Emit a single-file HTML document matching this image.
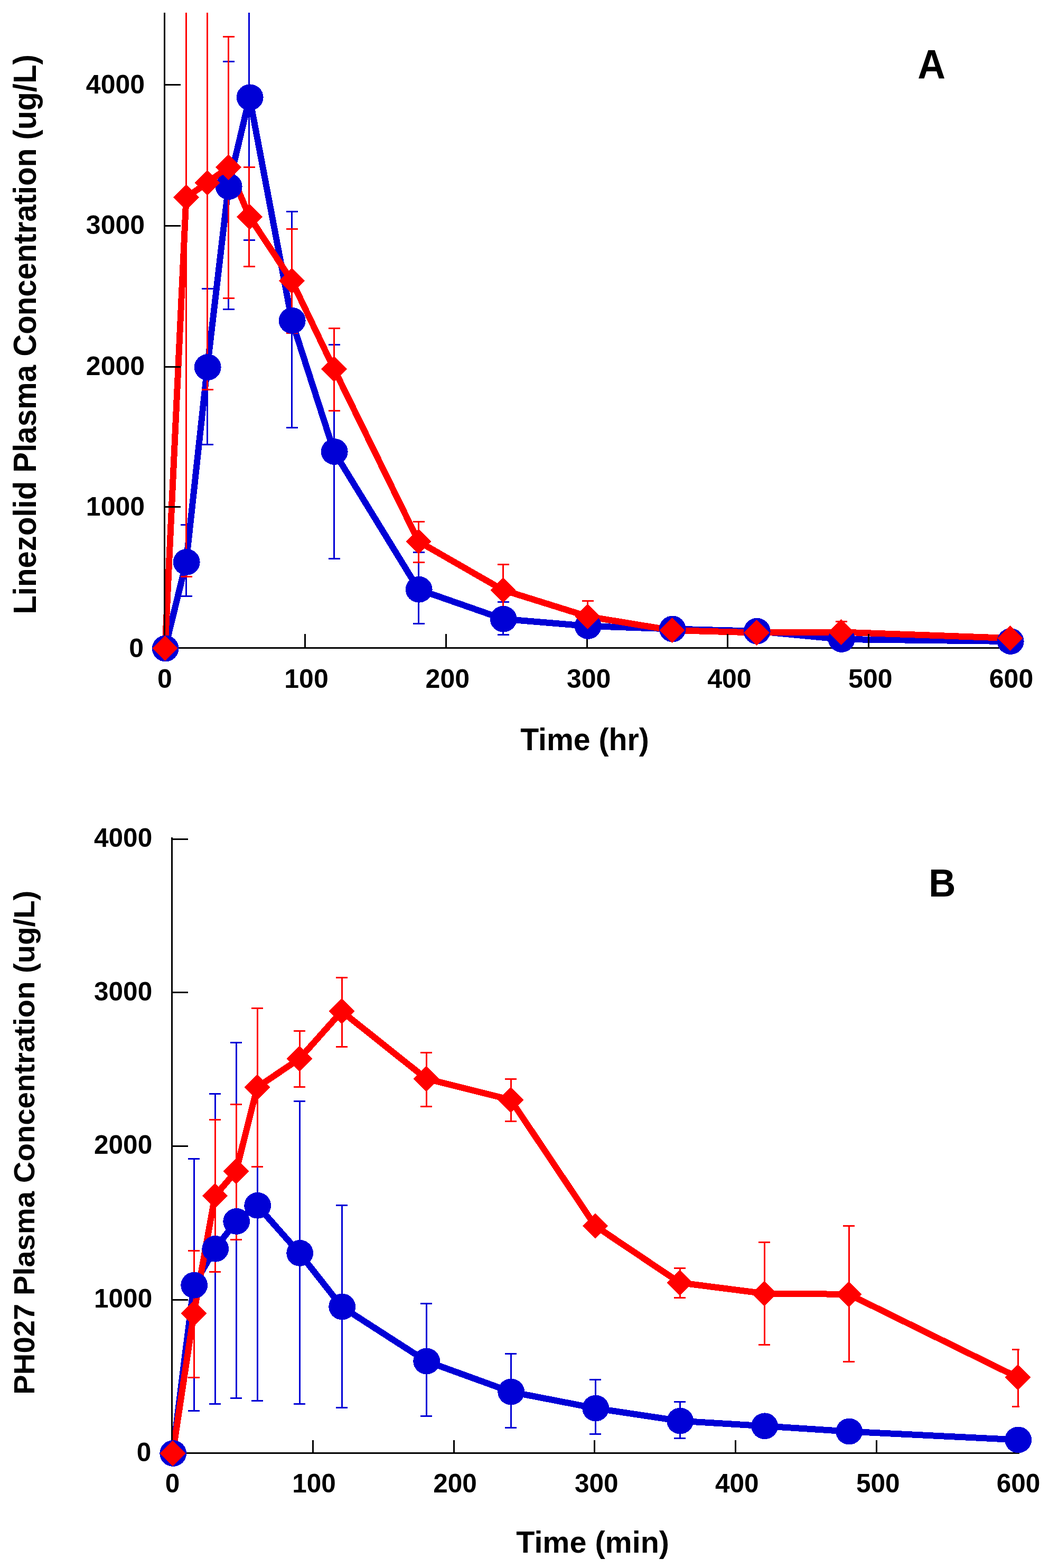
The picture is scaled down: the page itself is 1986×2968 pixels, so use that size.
<!DOCTYPE html>
<html><head><meta charset="utf-8"><title>Plasma Concentration</title>
<style>html,body{margin:0;padding:0;background:#fff;}body{width:1986px;height:2968px;overflow:hidden;}svg{display:block;}</style>
</head><body>
<svg width="1986" height="2968" viewBox="0 0 1986 2968" shape-rendering="crispEdges"><defs><clipPath id="clipA"><rect x="300" y="24" width="1616" height="1210"/></clipPath><clipPath id="clipB"><rect x="300" y="1584" width="1630" height="1180"/></clipPath></defs><rect width="1986" height="2968" fill="#fff"/><g stroke="#0000D6" stroke-width="3" clip-path="url(#clipA)"><line x1="352.5" y1="993.4" x2="352.5" y2="1128.6"/><line x1="341.5" y1="993.4" x2="363.5" y2="993.4"/><line x1="341.5" y1="1128.6" x2="363.5" y2="1128.6"/><line x1="392.5" y1="546.3" x2="392.5" y2="841.6"/><line x1="381.5" y1="546.3" x2="403.5" y2="546.3"/><line x1="381.5" y1="841.6" x2="403.5" y2="841.6"/><line x1="432.5" y1="116.5" x2="432.5" y2="585.2"/><line x1="421.5" y1="116.5" x2="443.5" y2="116.5"/><line x1="421.5" y1="585.2" x2="443.5" y2="585.2"/><line x1="471.5" y1="-90.0" x2="471.5" y2="454.2"/><line x1="460.5" y1="-90.0" x2="482.5" y2="-90.0"/><line x1="460.5" y1="454.2" x2="482.5" y2="454.2"/><line x1="552.5" y1="400.4" x2="552.5" y2="809.4"/><line x1="541.5" y1="400.4" x2="563.5" y2="400.4"/><line x1="541.5" y1="809.4" x2="563.5" y2="809.4"/><line x1="632.5" y1="652.3" x2="632.5" y2="1057.5"/><line x1="621.5" y1="652.3" x2="643.5" y2="652.3"/><line x1="621.5" y1="1057.5" x2="643.5" y2="1057.5"/><line x1="792.5" y1="1045.5" x2="792.5" y2="1180.4"/><line x1="781.5" y1="1045.5" x2="803.5" y2="1045.5"/><line x1="781.5" y1="1180.4" x2="803.5" y2="1180.4"/><line x1="952.5" y1="1139.5" x2="952.5" y2="1201.5"/><line x1="941.5" y1="1139.5" x2="963.5" y2="1139.5"/><line x1="941.5" y1="1201.5" x2="963.5" y2="1201.5"/><line x1="1112.5" y1="1168.0" x2="1112.5" y2="1202.0"/><line x1="1101.5" y1="1168.0" x2="1123.5" y2="1168.0"/><line x1="1101.5" y1="1202.0" x2="1123.5" y2="1202.0"/></g><polyline points="312.5,1227.5 352.5,1063.9 392.5,695.1 432.5,353.1 472.5,184.3 552.5,606.9 632.5,855.0 792.5,1115.8 952.5,1171.7 1112.5,1185.0 1272.5,1190.5 1432.5,1194.7 1592.5,1210.0 1912.5,1214.0" fill="none" stroke="#0000D6" stroke-width="12" stroke-linejoin="miter" stroke-miterlimit="2"/><g stroke="#FF0000" stroke-width="3" clip-path="url(#clipA)"><line x1="352.5" y1="-350.0" x2="352.5" y2="1091.6"/><line x1="341.5" y1="-350.0" x2="363.5" y2="-350.0"/><line x1="341.5" y1="1091.6" x2="363.5" y2="1091.6"/><line x1="392.5" y1="-50.0" x2="392.5" y2="737.2"/><line x1="381.5" y1="-50.0" x2="403.5" y2="-50.0"/><line x1="381.5" y1="737.2" x2="403.5" y2="737.2"/><line x1="432.5" y1="69.0" x2="432.5" y2="564.3"/><line x1="421.5" y1="69.0" x2="443.5" y2="69.0"/><line x1="421.5" y1="564.3" x2="443.5" y2="564.3"/><line x1="471.5" y1="316.3" x2="471.5" y2="504.4"/><line x1="460.5" y1="316.3" x2="482.5" y2="316.3"/><line x1="460.5" y1="504.4" x2="482.5" y2="504.4"/><line x1="552.5" y1="433.3" x2="552.5" y2="630.0"/><line x1="541.5" y1="433.3" x2="563.5" y2="433.3"/><line x1="541.5" y1="630.0" x2="563.5" y2="630.0"/><line x1="632.5" y1="621.2" x2="632.5" y2="777.6"/><line x1="621.5" y1="621.2" x2="643.5" y2="621.2"/><line x1="621.5" y1="777.6" x2="643.5" y2="777.6"/><line x1="792.5" y1="987.4" x2="792.5" y2="1064.5"/><line x1="781.5" y1="987.4" x2="803.5" y2="987.4"/><line x1="781.5" y1="1064.5" x2="803.5" y2="1064.5"/><line x1="952.5" y1="1068.5" x2="952.5" y2="1165.3"/><line x1="941.5" y1="1068.5" x2="963.5" y2="1068.5"/><line x1="941.5" y1="1165.3" x2="963.5" y2="1165.3"/><line x1="1112.5" y1="1137.5" x2="1112.5" y2="1196.3"/><line x1="1101.5" y1="1137.5" x2="1123.5" y2="1137.5"/><line x1="1101.5" y1="1196.3" x2="1123.5" y2="1196.3"/><line x1="1592.5" y1="1176.4" x2="1592.5" y2="1217.0"/><line x1="1581.5" y1="1176.4" x2="1603.5" y2="1176.4"/><line x1="1581.5" y1="1217.0" x2="1603.5" y2="1217.0"/></g><polyline points="312.5,1227.0 352.5,373.5 392.5,346.0 432.5,316.5 472.5,410.6 552.5,531.5 632.5,698.4 792.5,1025.0 952.5,1116.9 1112.5,1166.9 1272.5,1193.1 1432.5,1197.5 1592.5,1196.5 1912.5,1208.0" fill="none" stroke="#FF0000" stroke-width="12" stroke-linejoin="miter" stroke-miterlimit="2"/><g stroke="#0000D6" stroke-width="3" clip-path="url(#clipB)"><line x1="367.0" y1="2193.3" x2="367.0" y2="2670.4"/><line x1="356.0" y1="2193.3" x2="378.0" y2="2193.3"/><line x1="356.0" y1="2670.4" x2="378.0" y2="2670.4"/><line x1="407.0" y1="2070.3" x2="407.0" y2="2657.2"/><line x1="396.0" y1="2070.3" x2="418.0" y2="2070.3"/><line x1="396.0" y1="2657.2" x2="418.0" y2="2657.2"/><line x1="447.0" y1="1973.3" x2="447.0" y2="2646.5"/><line x1="436.0" y1="1973.3" x2="458.0" y2="1973.3"/><line x1="436.0" y1="2646.5" x2="458.0" y2="2646.5"/><line x1="487.0" y1="2058.0" x2="487.0" y2="2651.3"/><line x1="476.0" y1="2058.0" x2="498.0" y2="2058.0"/><line x1="476.0" y1="2651.3" x2="498.0" y2="2651.3"/><line x1="567.0" y1="2084.2" x2="567.0" y2="2657.4"/><line x1="556.0" y1="2084.2" x2="578.0" y2="2084.2"/><line x1="556.0" y1="2657.4" x2="578.0" y2="2657.4"/><line x1="647.0" y1="2281.0" x2="647.0" y2="2664.6"/><line x1="636.0" y1="2281.0" x2="658.0" y2="2281.0"/><line x1="636.0" y1="2664.6" x2="658.0" y2="2664.6"/><line x1="807.0" y1="2467.3" x2="807.0" y2="2680.7"/><line x1="796.0" y1="2467.3" x2="818.0" y2="2467.3"/><line x1="796.0" y1="2680.7" x2="818.0" y2="2680.7"/><line x1="967.0" y1="2562.7" x2="967.0" y2="2702.5"/><line x1="956.0" y1="2562.7" x2="978.0" y2="2562.7"/><line x1="956.0" y1="2702.5" x2="978.0" y2="2702.5"/><line x1="1127.0" y1="2611.3" x2="1127.0" y2="2714.8"/><line x1="1116.0" y1="2611.3" x2="1138.0" y2="2611.3"/><line x1="1116.0" y1="2714.8" x2="1138.0" y2="2714.8"/><line x1="1287.0" y1="2653.2" x2="1287.0" y2="2722.6"/><line x1="1276.0" y1="2653.2" x2="1298.0" y2="2653.2"/><line x1="1276.0" y1="2722.6" x2="1298.0" y2="2722.6"/></g><polyline points="327.0,2751.0 367.0,2432.7 407.0,2363.8 447.0,2311.9 487.0,2281.8 567.0,2371.9 647.0,2473.4 807.0,2576.5 967.0,2634.5 1127.0,2665.6 1287.0,2689.6 1447.0,2699.3 1607.0,2709.6 1927.0,2725.4" fill="none" stroke="#0000D6" stroke-width="12" stroke-linejoin="miter" stroke-miterlimit="2"/><g stroke="#FF0000" stroke-width="3" clip-path="url(#clipB)"><line x1="367.0" y1="2367.4" x2="367.0" y2="2607.5"/><line x1="356.0" y1="2367.4" x2="378.0" y2="2367.4"/><line x1="356.0" y1="2607.5" x2="378.0" y2="2607.5"/><line x1="407.0" y1="2119.5" x2="407.0" y2="2407.2"/><line x1="396.0" y1="2119.5" x2="418.0" y2="2119.5"/><line x1="396.0" y1="2407.2" x2="418.0" y2="2407.2"/><line x1="447.0" y1="2090.4" x2="447.0" y2="2346.4"/><line x1="436.0" y1="2090.4" x2="458.0" y2="2090.4"/><line x1="436.0" y1="2346.4" x2="458.0" y2="2346.4"/><line x1="487.0" y1="1908.2" x2="487.0" y2="2208.2"/><line x1="476.0" y1="1908.2" x2="498.0" y2="1908.2"/><line x1="476.0" y1="2208.2" x2="498.0" y2="2208.2"/><line x1="567.0" y1="1951.3" x2="567.0" y2="2057.5"/><line x1="556.0" y1="1951.3" x2="578.0" y2="1951.3"/><line x1="556.0" y1="2057.5" x2="578.0" y2="2057.5"/><line x1="647.0" y1="1850.2" x2="647.0" y2="1981.3"/><line x1="636.0" y1="1850.2" x2="658.0" y2="1850.2"/><line x1="636.0" y1="1981.3" x2="658.0" y2="1981.3"/><line x1="807.0" y1="1992.2" x2="807.0" y2="2094.6"/><line x1="796.0" y1="1992.2" x2="818.0" y2="1992.2"/><line x1="796.0" y1="2094.6" x2="818.0" y2="2094.6"/><line x1="967.0" y1="2042.1" x2="967.0" y2="2122.4"/><line x1="956.0" y1="2042.1" x2="978.0" y2="2042.1"/><line x1="956.0" y1="2122.4" x2="978.0" y2="2122.4"/><line x1="1127.0" y1="2311.0" x2="1127.0" y2="2330.0"/><line x1="1116.0" y1="2311.0" x2="1138.0" y2="2311.0"/><line x1="1116.0" y1="2330.0" x2="1138.0" y2="2330.0"/><line x1="1287.0" y1="2400.2" x2="1287.0" y2="2456.2"/><line x1="1276.0" y1="2400.2" x2="1298.0" y2="2400.2"/><line x1="1276.0" y1="2456.2" x2="1298.0" y2="2456.2"/><line x1="1447.0" y1="2351.4" x2="1447.0" y2="2545.2"/><line x1="1436.0" y1="2351.4" x2="1458.0" y2="2351.4"/><line x1="1436.0" y1="2545.2" x2="1458.0" y2="2545.2"/><line x1="1607.0" y1="2320.4" x2="1607.0" y2="2577.4"/><line x1="1596.0" y1="2320.4" x2="1618.0" y2="2320.4"/><line x1="1596.0" y1="2577.4" x2="1618.0" y2="2577.4"/><line x1="1927.0" y1="2554.9" x2="1927.0" y2="2662.8"/><line x1="1916.0" y1="2554.9" x2="1938.0" y2="2554.9"/><line x1="1916.0" y1="2662.8" x2="1938.0" y2="2662.8"/></g><polyline points="327.0,2751.0 367.0,2486.0 407.0,2263.6 447.0,2217.0 487.0,2058.0 567.0,2004.0 647.0,1914.3 807.0,2041.9 967.0,2081.9 1127.0,2320.5 1287.0,2428.0 1447.0,2448.4 1607.0,2449.9 1927.0,2607.3" fill="none" stroke="#FF0000" stroke-width="12" stroke-linejoin="miter" stroke-miterlimit="2"/><g fill="#000"><rect x="310" y="24" width="3" height="1204"/><rect x="310" y="1225" width="1604" height="3"/><rect x="313" y="958" width="29" height="3"/><rect x="313" y="693" width="29" height="3"/><rect x="313" y="426" width="29" height="3"/><rect x="313" y="159" width="29" height="3"/><rect x="576.2" y="1200" width="3" height="25"/><rect x="842.8" y="1200" width="3" height="25"/><rect x="1109.5" y="1200" width="3" height="25"/><rect x="1376.1" y="1200" width="3" height="25"/><rect x="1642.8" y="1200" width="3" height="25"/><rect x="1909.4" y="1200" width="3" height="25"/><rect x="324" y="1585" width="3" height="1167"/><rect x="324" y="2749" width="1606" height="3"/><rect x="327" y="2459" width="29" height="3"/><rect x="327" y="2168" width="29" height="3"/><rect x="327" y="1877" width="29" height="3"/><rect x="327" y="1587" width="29" height="3"/><rect x="590.8" y="2726" width="3" height="23"/><rect x="857.5" y="2726" width="3" height="23"/><rect x="1124.2" y="2726" width="3" height="23"/><rect x="1391.0" y="2726" width="3" height="23"/><rect x="1657.8" y="2726" width="3" height="23"/><rect x="1924.5" y="2726" width="3" height="23"/></g><g fill="#0000D6"><ellipse cx="313.2" cy="1227.5" rx="25.4" ry="24.9"/><ellipse cx="353.2" cy="1063.9" rx="25.4" ry="24.9"/><ellipse cx="393.2" cy="695.1" rx="25.4" ry="24.9"/><ellipse cx="433.2" cy="353.1" rx="25.4" ry="24.9"/><ellipse cx="473.2" cy="184.3" rx="25.4" ry="24.9"/><ellipse cx="553.2" cy="606.9" rx="25.4" ry="24.9"/><ellipse cx="633.2" cy="855.0" rx="25.4" ry="24.9"/><ellipse cx="793.2" cy="1115.8" rx="25.4" ry="24.9"/><ellipse cx="953.2" cy="1171.7" rx="25.4" ry="24.9"/><ellipse cx="1113.2" cy="1185.0" rx="25.4" ry="24.9"/><ellipse cx="1273.2" cy="1190.5" rx="25.4" ry="24.9"/><ellipse cx="1433.2" cy="1194.7" rx="25.4" ry="24.9"/><ellipse cx="1593.2" cy="1210.0" rx="25.4" ry="24.9"/><ellipse cx="1913.2" cy="1214.0" rx="25.4" ry="24.9"/></g><g fill="#FF0000"><path d="M312.5 1202.7L336.8 1227.0L312.5 1251.3L288.2 1227.0Z"/><path d="M352.5 349.2L376.8 373.5L352.5 397.8L328.2 373.5Z"/><path d="M392.5 321.7L416.8 346.0L392.5 370.3L368.2 346.0Z"/><path d="M432.5 292.2L456.8 316.5L432.5 340.8L408.2 316.5Z"/><path d="M472.5 386.3L496.8 410.6L472.5 434.9L448.2 410.6Z"/><path d="M552.5 507.2L576.8 531.5L552.5 555.8L528.2 531.5Z"/><path d="M632.5 674.1L656.8 698.4L632.5 722.7L608.2 698.4Z"/><path d="M792.5 1000.7L816.8 1025.0L792.5 1049.3L768.2 1025.0Z"/><path d="M952.5 1092.6L976.8 1116.9L952.5 1141.2L928.2 1116.9Z"/><path d="M1112.5 1142.6L1136.8 1166.9L1112.5 1191.2L1088.2 1166.9Z"/><path d="M1272.5 1168.8L1296.8 1193.1L1272.5 1217.4L1248.2 1193.1Z"/><path d="M1432.5 1173.2L1456.8 1197.5L1432.5 1221.8L1408.2 1197.5Z"/><path d="M1592.5 1172.2L1616.8 1196.5L1592.5 1220.8L1568.2 1196.5Z"/><path d="M1912.5 1183.7L1936.8 1208.0L1912.5 1232.3L1888.2 1208.0Z"/></g><g fill="#0000D6"><ellipse cx="327.7" cy="2751.0" rx="25.4" ry="24.9"/><ellipse cx="367.7" cy="2432.7" rx="25.4" ry="24.9"/><ellipse cx="407.7" cy="2363.8" rx="25.4" ry="24.9"/><ellipse cx="447.7" cy="2311.9" rx="25.4" ry="24.9"/><ellipse cx="487.7" cy="2281.8" rx="25.4" ry="24.9"/><ellipse cx="567.7" cy="2371.9" rx="25.4" ry="24.9"/><ellipse cx="647.7" cy="2473.4" rx="25.4" ry="24.9"/><ellipse cx="807.7" cy="2576.5" rx="25.4" ry="24.9"/><ellipse cx="967.7" cy="2634.5" rx="25.4" ry="24.9"/><ellipse cx="1127.7" cy="2665.6" rx="25.4" ry="24.9"/><ellipse cx="1287.7" cy="2689.6" rx="25.4" ry="24.9"/><ellipse cx="1447.7" cy="2699.3" rx="25.4" ry="24.9"/><ellipse cx="1607.7" cy="2709.6" rx="25.4" ry="24.9"/><ellipse cx="1927.7" cy="2725.4" rx="25.4" ry="24.9"/></g><g fill="#FF0000"><path d="M327.0 2726.7L351.3 2751.0L327.0 2775.3L302.7 2751.0Z"/><path d="M367.0 2461.7L391.3 2486.0L367.0 2510.3L342.7 2486.0Z"/><path d="M407.0 2239.3L431.3 2263.6L407.0 2287.9L382.7 2263.6Z"/><path d="M447.0 2192.7L471.3 2217.0L447.0 2241.3L422.7 2217.0Z"/><path d="M487.0 2033.7L511.3 2058.0L487.0 2082.3L462.7 2058.0Z"/><path d="M567.0 1979.7L591.3 2004.0L567.0 2028.3L542.7 2004.0Z"/><path d="M647.0 1890.0L671.3 1914.3L647.0 1938.6L622.7 1914.3Z"/><path d="M807.0 2017.6L831.3 2041.9L807.0 2066.2L782.7 2041.9Z"/><path d="M967.0 2057.6L991.3 2081.9L967.0 2106.2L942.7 2081.9Z"/><path d="M1127.0 2296.2L1151.3 2320.5L1127.0 2344.8L1102.7 2320.5Z"/><path d="M1287.0 2403.7L1311.3 2428.0L1287.0 2452.3L1262.7 2428.0Z"/><path d="M1447.0 2424.1L1471.3 2448.4L1447.0 2472.7L1422.7 2448.4Z"/><path d="M1607.0 2425.6L1631.3 2449.9L1607.0 2474.2L1582.7 2449.9Z"/><path d="M1927.0 2583.0L1951.3 2607.3L1927.0 2631.6L1902.7 2607.3Z"/></g><g font-family="'Liberation Sans', Arial, sans-serif" font-weight="bold" fill="#000" shape-rendering="auto"><text x="272.1" y="1243.7" font-size="50" text-anchor="end">0</text><text x="274.1" y="976.2" font-size="50" text-anchor="end">1000</text><text x="274.1" y="709.7" font-size="50" text-anchor="end">2000</text><text x="274.1" y="443.0" font-size="50" text-anchor="end">3000</text><text x="274.1" y="177.2" font-size="50" text-anchor="end">4000</text><text x="312.0" y="1302.3" font-size="50" text-anchor="middle">0</text><text x="580.0" y="1302.3" font-size="50" text-anchor="middle">100</text><text x="847.3" y="1302.3" font-size="50" text-anchor="middle">200</text><text x="1114.7" y="1302.3" font-size="50" text-anchor="middle">300</text><text x="1380.9" y="1302.3" font-size="50" text-anchor="middle">400</text><text x="1647.8" y="1302.3" font-size="50" text-anchor="middle">500</text><text x="1914.5" y="1302.3" font-size="50" text-anchor="middle">600</text><text x="286.2" y="2765.5" font-size="49.5" text-anchor="end">0</text><text x="288.2" y="2475.0" font-size="49.5" text-anchor="end">1000</text><text x="288.2" y="2184.4" font-size="49.5" text-anchor="end">2000</text><text x="288.2" y="1893.8" font-size="49.5" text-anchor="end">3000</text><text x="288.2" y="1603.2" font-size="49.5" text-anchor="end">4000</text><text x="326.5" y="2824.5" font-size="49.5" text-anchor="middle">0</text><text x="594.5" y="2824.5" font-size="49.5" text-anchor="middle">100</text><text x="861.5" y="2824.5" font-size="49.5" text-anchor="middle">200</text><text x="1129.2" y="2824.5" font-size="49.5" text-anchor="middle">300</text><text x="1395.3" y="2824.5" font-size="49.5" text-anchor="middle">400</text><text x="1662.2" y="2824.5" font-size="49.5" text-anchor="middle">500</text><text x="1928.0" y="2824.5" font-size="49.5" text-anchor="middle">600</text><text transform="translate(67.9,1162.7) rotate(-90) scale(1,1.04)" font-size="58.15">Linezolid Plasma Concentration (ug/L)</text><text transform="translate(65,2639.8) rotate(-90) scale(1,1.0)" font-size="56.3">PH027 Plasma Concentration (ug/L)</text><text transform="translate(985.2,1419.8) scale(1,1.04)" font-size="57.2">Time (hr)</text><text transform="translate(977.3,2938.8) scale(1,1.0)" font-size="57.5">Time (min)</text><text transform="translate(1737.2,148.9) scale(1,1.0553)" font-size="73">A</text><text transform="translate(1758.2,1697) scale(1,1.0491)" font-size="70.8">B</text></g></svg>
</body></html>
